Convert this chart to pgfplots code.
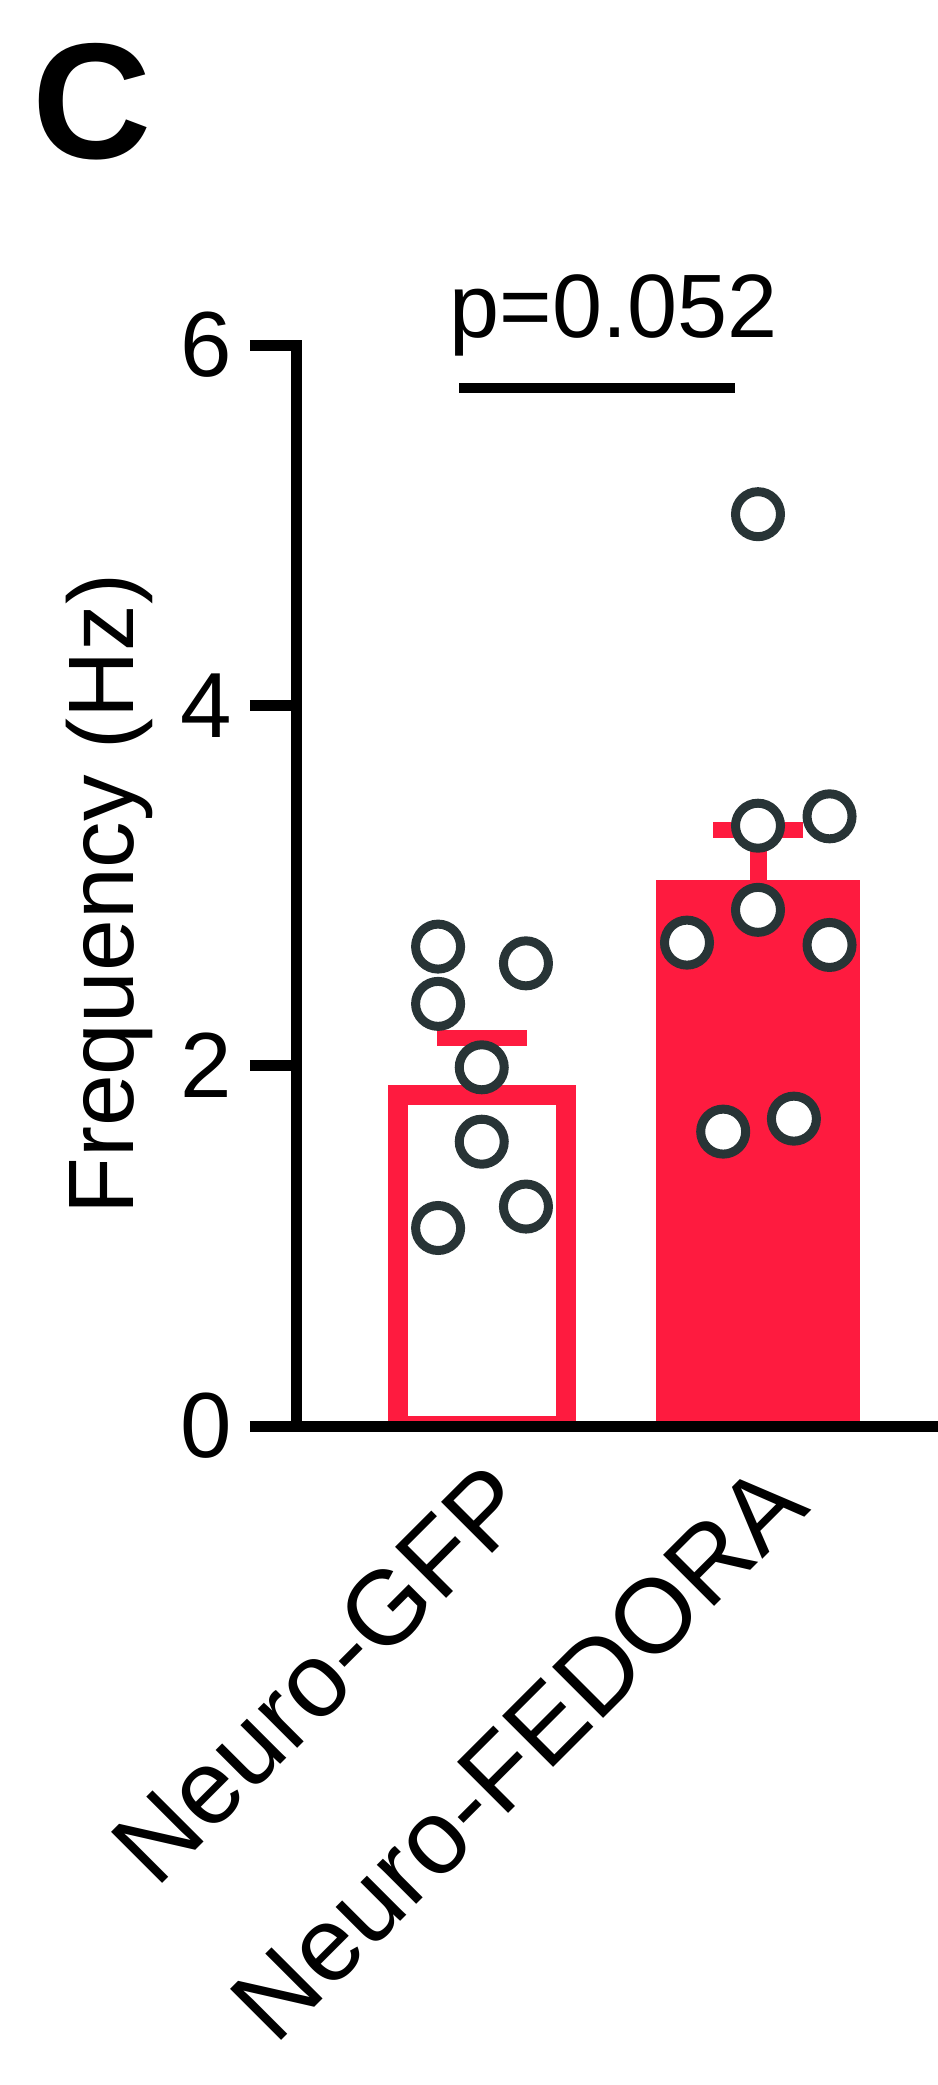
\documentclass[border=0pt]{standalone}
\usepackage{fontspec}
\setmainfont{Liberation Sans}
\usepackage{pgfplots}
\pgfplotsset{compat=1.18}
\definecolor{myred}{RGB}{254,27,63}
\definecolor{mydark}{RGB}{40,52,54}
\begin{document}
\begin{tikzpicture}
\useasboundingbox (-59.3pt,-131.8pt) rectangle (128.1pt,285.2pt);
\begin{axis}[
  at={(0,0)}, anchor=south west,
  scale only axis, width=128.1pt, height=216.2pt,
  xmin=0.3294, xmax=2.648, ymin=0, ymax=6,
  axis x line*=bottom, axis y line*=left,
  axis line style={line width=2.2pt, black, line cap=rect},
  axis on top,
  clip mode=individual,
  ytick={0,2,4,6},
  xtick={1,2},
  xticklabels={Neuro-GFP, Neuro-FEDORA},
  tick align=outside,
  major tick length=9.3pt,
  ytick style={line width=2.2pt, black},
  xtick style={draw=none},
  /pgf/number format/assume math mode=true,
  yticklabel style={font=\fontsize{18.5}{20}\selectfont, anchor=east, inner sep=0pt, xshift=-3.4pt},
  xticklabel style={font=\fontsize{21}{24}\selectfont, xshift=0.4pt, yshift=3.2pt, rotate=45, anchor=north east, inner sep=0pt},
  ylabel={Frequency (Hz)},
  ylabel style={font=\fontsize{18.6}{20}\selectfont, at={(axis description cs:-0.2225,0.492)}, anchor=south, inner sep=0pt},
]
% Neuro-GFP bar (open)
\addplot[ybar, bar shift=0pt, bar width=0.608, draw=myred, line width=4pt, fill=white,
  error bars/.cd, y dir=plus, y explicit,
  error bar style={line width=3.4pt, myred},
  error mark options={rotate=90, line width=3.2pt, myred, mark size=9pt}]
  coordinates {(1,1.84) +- (0,0.316)};
% Neuro-FEDORA bar (filled)
\addplot[ybar, bar shift=0pt, bar width=0.742, draw=none, fill=myred,
  error bars/.cd, y dir=plus, y explicit,
  error bar style={line width=3.4pt, myred},
  error mark options={rotate=90, line width=3.2pt, myred, mark size=9pt}]
  coordinates {(2,3.03) +- (0,0.28)};
% individual points
\addplot[only marks, mark=*, mark size=4.5pt, mark options={draw=mydark, fill=white, line width=1.8pt}]
  coordinates {
  (0.842,2.661) (1.160,2.568) (0.842,2.343) (1.0,1.991) (1.0,1.578) (1.160,1.218) (0.842,1.099)
  };
\addplot[only marks, mark=*, mark size=4.5pt, mark options={draw=mydark, fill=white, line width=1.8pt}]
  coordinates {
  (2.0,5.061) (2.0,3.332) (2.259,3.384) (1.743,2.683) (2.0,2.865) (2.259,2.670) (1.874,1.634) (2.130,1.706)
  };
% significance
\draw[line width=2pt, black] (axis cs:0.918,5.760) -- (axis cs:1.917,5.760);
\node[anchor=base, inner sep=0pt, font=\fontsize{18}{20}\selectfont] at (axis cs:1.477,6.043) {p=0.052};
\end{axis}
\node[anchor=north west, inner sep=0pt, font=\fontsize{33}{36}\selectfont\bfseries] at (-52.9pt,276.8pt) {C};
\end{tikzpicture}
\end{document}
